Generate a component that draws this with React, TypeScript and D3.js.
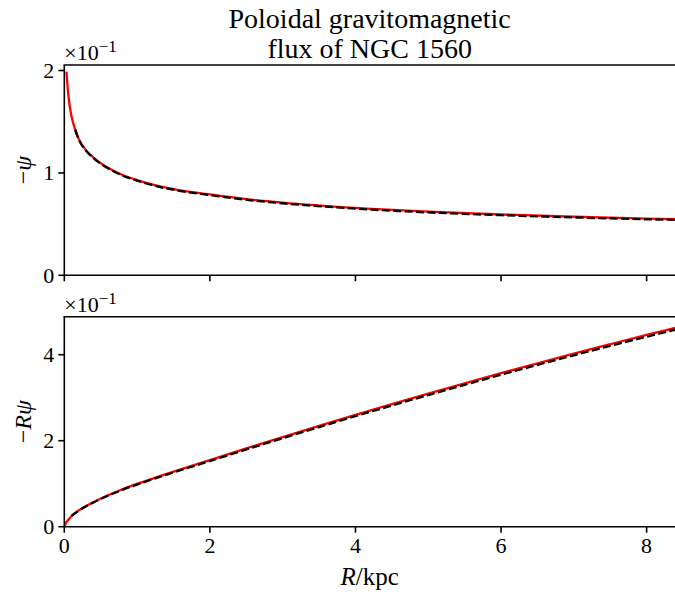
import React from "react";
import * as d3 from "d3";

// ---- data ----
const topRedR = [0.03, 0.05, 0.075, 0.1, 0.15, 0.2, 0.3, 0.4, 0.6, 0.8, 1.0, 1.3, 1.6, 2.0, 2.5, 3.0, 4.0, 5.0, 6.0, 7.0, 8.0, 8.4];
const topRedPsi = [1.99, 1.8, 1.65, 1.55, 1.42, 1.33, 1.22, 1.15, 1.05, 0.98, 0.93, 0.87, 0.83, 0.79, 0.745, 0.71, 0.658, 0.621, 0.594, 0.572, 0.554, 0.548];
const topBlackR = [0.15, 0.2, 0.3, 0.4, 0.6, 0.8, 1.0, 1.3, 1.6, 2.0, 2.5, 3.0, 4.0, 5.0, 6.0, 7.0, 8.0, 8.4];
const topBlackPsi = [1.42, 1.325, 1.215, 1.145, 1.045, 0.975, 0.924, 0.864, 0.823, 0.783, 0.738, 0.703, 0.651, 0.614, 0.587, 0.565, 0.547, 0.541];

const botRedR = [0, 0.02, 0.05, 0.1, 0.2, 0.3, 0.4, 0.6, 0.8, 1.0, 1.25, 1.5, 2.0, 2.5, 3.0, 3.5, 4.0, 4.5, 5.0, 5.5, 6.0, 6.5, 7.0, 7.5, 8.0, 8.4];
const botRedRPsi = [0, 0.08, 0.15, 0.25, 0.38, 0.48, 0.57, 0.73, 0.87, 0.995, 1.14, 1.28, 1.55, 1.82, 2.085, 2.345, 2.6, 2.85, 3.095, 3.335, 3.57, 3.8, 4.025, 4.245, 4.46, 4.625];
const botBlackR = [0.1, 0.2, 0.3, 0.4, 0.6, 0.8, 1.0, 1.25, 1.5, 2.0, 2.5, 3.0, 3.5, 4.0, 4.5, 5.0, 5.5, 6.0, 6.5, 7.0, 7.5, 8.0, 8.4];
const botBlackRPsi = [0.25, 0.375, 0.475, 0.563, 0.72, 0.858, 0.98, 1.123, 1.26, 1.527, 1.795, 2.058, 2.316, 2.57, 2.818, 3.062, 3.3, 3.534, 3.763, 3.987, 4.206, 4.42, 4.585];

const xTicks = [0, 2, 4, 6, 8];
const topYTicks = [0, 1, 2];
const botYTicks = [0, 2, 4];
const titleLines = ["Poloidal gravitomagnetic", "flux of NGC 1560"];

const FONT = "Liberation Serif, Times New Roman, Times, serif";

const W = 675;
const H = 596;
const left = 64.3;
const right = 675;
const topP = { y0: 65, y1: 275.3, max: 2.054 };
const botP = { y0: 316.7, y1: 526.7, max: 4.884 };

const x = d3.scaleLinear().domain([0, 8.39]).range([left, right]);

function Panel({ p, ticks, red, black, showXLabels, ylabel, clipId }: any) {
  const y = d3.scaleLinear().domain([0, p.max]).range([p.y1, p.y0]);
  const line = d3
    .line<[number, number]>()
    .x((d) => x(d[0]))
    .y((d) => y(d[1]))
    .curve(d3.curveMonotoneX);
  const tl = 6;
  return (
    <g>
      <defs>
        <clipPath id={clipId}>
          <rect x={left} y={p.y0} width={right - left} height={p.y1 - p.y0} />
        </clipPath>
      </defs>
      <g clipPath={`url(#${clipId})`}>
        <path d={line(red) || ""} fill="none" stroke="#ff0000" strokeWidth={2.3} />
        <path d={line(black) || ""} fill="none" stroke="#000" strokeWidth={2.3} strokeDasharray="8 3.4" />
      </g>
      {/* spines */}
      <line x1={left} x2={left} y1={p.y0} y2={p.y1} stroke="#000" strokeWidth={1.6} />
      <line x1={left - 0.8} x2={right} y1={p.y1} y2={p.y1} stroke="#000" strokeWidth={1.6} />
      <line x1={left - 0.8} x2={right} y1={p.y0} y2={p.y0} stroke="#000" strokeWidth={1.6} />
      {/* y ticks */}
      {ticks.map((t: number) => (
        <g key={"y" + t}>
          <line x1={left - tl} x2={left} y1={y(t)} y2={y(t)} stroke="#000" strokeWidth={1.6} />
          <text x={left - tl - 4} y={y(t)} dy="0.34em" textAnchor="end" fontFamily={FONT} fontSize={22} fill="#000">
            {t}
          </text>
        </g>
      ))}
      {/* x ticks */}
      {xTicks.map((t) => (
        <g key={"x" + t}>
          <line x1={x(t)} x2={x(t)} y1={p.y1} y2={p.y1 + tl} stroke="#000" strokeWidth={1.6} />
          {showXLabels && (
            <text x={x(t)} y={p.y1 + tl + 20} textAnchor="middle" fontFamily={FONT} fontSize={22} fill="#000">
              {t}
            </text>
          )}
        </g>
      ))}
      {/* offset text */}
      <text x={left} y={p.y0 - 5} fontFamily={FONT} fontSize={22} fill="#000">
        ×10
        <tspan dy={-8} fontSize={17}>−1</tspan>
      </text>
      {/* y label */}
      <text
        transform={`translate(${31},${(p.y0 + p.y1) / 2}) rotate(-90)`}
        textAnchor="middle"
        fontFamily={FONT}
        fontSize={24}
        fill="#000"
      >
        {ylabel}
      </text>
    </g>
  );
}

export default function App() {
  const topRed = topRedR.map((r, i) => [r, topRedPsi[i]] as [number, number]);
  const topBlack = topBlackR.map((r, i) => [r, topBlackPsi[i]] as [number, number]);
  const botRed = botRedR.map((r, i) => [r, botRedRPsi[i]] as [number, number]);
  const botBlack = botBlackR.map((r, i) => [r, botBlackRPsi[i]] as [number, number]);
  const cx = (left + right) / 2;
  return (
    <svg width={W} height={H} style={{ position: "absolute", left: 0, top: 0, background: "#fff" }}>
      <rect width={W} height={H} fill="#fff" />
      {titleLines.map((t, i) => (
        <text key={i} x={cx} y={28 + i * 30} textAnchor="middle" fontFamily={FONT} fontSize={28} fill="#000">
          {t}
        </text>
      ))}
      <Panel
        p={topP}
        ticks={topYTicks}
        red={topRed}
        black={topBlack}
        showXLabels={false}
        clipId="clipTop"
        ylabel={
          <>
            −<tspan fontStyle="italic">ψ</tspan>
          </>
        }
      />
      <Panel
        p={botP}
        ticks={botYTicks}
        red={botRed}
        black={botBlack}
        showXLabels={true}
        clipId="clipBot"
        ylabel={
          <>
            −<tspan fontStyle="italic">Rψ</tspan>
          </>
        }
      />
      <text x={cx} y={585} textAnchor="middle" fontFamily={FONT} fontSize={25} fill="#000">
        <tspan fontStyle="italic">R</tspan>/kpc
      </text>
    </svg>
  );
}
